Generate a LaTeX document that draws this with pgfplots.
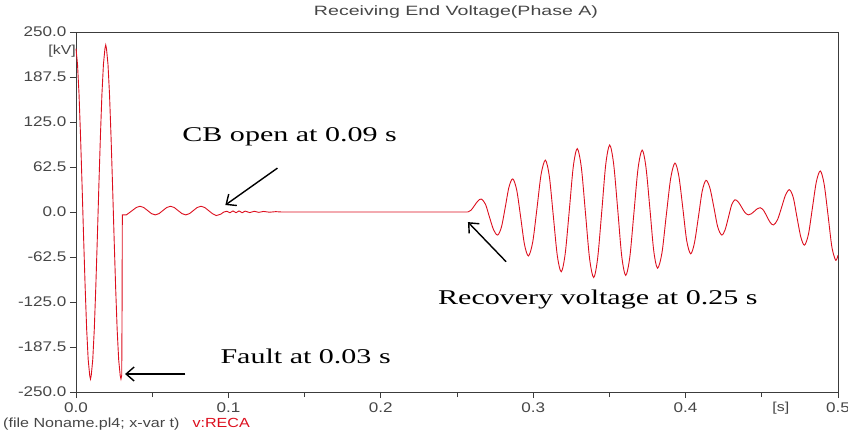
\documentclass[border=0pt]{standalone}
\usepackage{pgfplots}
\pgfplotsset{compat=1.18}
\usetikzlibrary{arrows.meta}
\usepackage{fontspec}
\setmainfont{Liberation Sans}[FakeStretch=1.22]
\newfontfamily\titlefont{Liberation Sans}[FakeStretch=1.45]
\newfontfamily\annfont{Liberation Serif}[FakeStretch=1.43]
\definecolor{wave}{RGB}{220,15,30}
\definecolor{axcol}{RGB}{60,60,60}
\definecolor{txtcol}{RGB}{70,70,70}
\begin{document}
\begin{tikzpicture}[x=1pt,y=1pt]
\useasboundingbox (-76,-40) rectangle (772,392);
\begin{axis}[
  at={(0,0)}, anchor=south west,
  scale only axis, width=762pt, height=360pt,
  xmin=0, xmax=0.5, ymin=-250, ymax=250,
  xtick={0,0.1,0.2,0.3,0.4,0.5},
  minor xtick={0.05,0.15,0.25,0.35,0.45},
  ytick={-250,-187.5,-125,-62.5,0,62.5,125,187.5,250},
  tick align=outside, tick pos=left,
  major tick length=6pt, minor tick length=5pt,
  every tick/.style={axcol, line width=0.8pt},
  axis line style={axcol, line width=0.9pt},
  /pgf/number format/.cd, fixed, fixed zerofill, precision=1, assume math mode=true,
  /pgfplots/.cd,
  tick label style={font=\fontsize{14}{16}\selectfont, text=txtcol},
  xticklabel style={yshift=-1pt},
  clip=false,
]
\addplot[wave, line width=0.9pt] coordinates {
(0,227) (0.001,205) (0.002,163) (0.003,104) (0.004,36) (0.005,-36) (0.006,-104) (0.007,-163) (0.008,-205) (0.009,-227) (0.0095,-232) (0.010,-227) (0.011,-205) (0.012,-163) (0.013,-104) (0.014,-36) (0.015,36) (0.016,104) (0.017,163) (0.018,205) (0.019,227) (0.0195,232) (0.020,227) (0.021,205) (0.022,163) (0.023,104) (0.024,36) (0.025,-36) (0.026,-104) (0.027,-163) (0.028,-205) (0.029,-227) (0.0295,-232) (0.030,-227) (0.0302,-150) (0.0304,-4)
(0.033,-4) (0.035,-1) (0.0395,6.2) (0.042,8) (0.0445,6.2) (0.047,2) (0.0495,-2.2) (0.052,-4) (0.0545,-2.2) (0.057,2) (0.0595,6.2) (0.062,8) (0.0645,6.2) (0.067,2) (0.0695,-2.2) (0.072,-4) (0.0745,-2.2) (0.077,2) (0.0795,6.2) (0.082,8) (0.0845,6.2) (0.087,2) (0.0895,-2.2) (0.092,-5) (0.095,-3) (0.097,0) (0.099,1)
(0.101,-1) (0.103,1.5) (0.105,-1) (0.107,1.5) (0.109,-1) (0.111,1.2) (0.114,-0.8) (0.117,1) (0.120,-0.5) (0.123,0.8) (0.127,-0.3) (0.131,0.5) (0.135,0) (0.257,0)
};
\addplot[wave, line width=0.9pt, smooth, tension=0.5] coordinates {
(0.257,0)
(0.25925,2.6) (0.2615,9) (0.26375,15.4) (0.266,18)
(0.2687,10.7) (0.2713,-7) (0.2740,-24.7) (0.2767,-32)
(0.2792,-20.6) (0.2817,7) (0.2841,34.6) (0.2866,46)
(0.2892,30.3) (0.2918,-7.5) (0.2943,-45.3) (0.2969,-61)
(0.2997,-41.5) (0.3025,5.5) (0.3052,52.5) (0.308,72)
(0.3106,49.3) (0.3132,-5.5) (0.3158,-60.3) (0.3184,-83)
(0.3210,-58) (0.3237,2.5) (0.3263,63) (0.3289,88)
(0.3316,61.8) (0.3343,-1.5) (0.3370,-64.8) (0.3397,-91)
(0.3423,-64) (0.3450,1) (0.3476,66) (0.3502,93)
(0.3528,66.5) (0.3555,2.5) (0.3581,-61.5) (0.3607,-88)
(0.3634,-62.5) (0.3661,-1) (0.3688,60.5) (0.3715,86)
(0.3740,62) (0.3766,4) (0.3791,-54) (0.3816,-78)
(0.3845,-56.6) (0.3873,-5) (0.3902,46.6) (0.393,68)
(0.3956,49.5) (0.3982,5) (0.4007,-39.5) (0.4033,-58)
(0.4058,-43) (0.4084,-7) (0.4109,29) (0.4134,44)
(0.4160,32.9) (0.4186,6) (0.4211,-20.9) (0.4237,-32)
(0.4259,-24.8) (0.4281,-7.5) (0.4302,9.8) (0.4324,17)
(0.4346,13.9) (0.4368,6.5) (0.4390,-0.9) (0.4412,-4)
(0.4431,-2.5) (0.4451,1) (0.4470,4.5) (0.4489,6)
(0.4511,2.5) (0.4533,-6) (0.4555,-14.5) (0.4577,-18)
(0.4603,-10.8) (0.4630,6.5) (0.4656,23.8) (0.4682,31)
(0.4707,19.7) (0.4731,-7.5) (0.4756,-34.7) (0.478,-46)
(0.4806,-31) (0.4832,5.5) (0.4858,42) (0.4884,57)
(0.4909,38.8) (0.4935,-5) (0.4960,-48.8) (0.4985,-67)
(0.5,-60)
};
% arrows
\draw[-{Straight Barb[length=8pt,width=14pt]}, line width=1.4pt] (axis cs:0.1322,61) -- (axis cs:0.098,9.7);
\draw[-{Straight Barb[length=8pt,width=14pt]}, line width=1.4pt] (axis cs:0.2822,-69) -- (axis cs:0.2572,-14);
\draw[-{Straight Barb[length=8pt,width=14pt]}, line width=1.4pt] (axis cs:0.0717,-225) -- (axis cs:0.0322,-225);
% annotation texts
\node[anchor=west, inner sep=0pt, font=\annfont\fontsize{21}{24}\selectfont] at (axis cs:0.0697,104) {CB open at 0.09 s};
\node[anchor=west, inner sep=0pt, font=\annfont\fontsize{21}{24}\selectfont] at (axis cs:0.2375,-122) {Recovery voltage at 0.25 s};
\node[anchor=west, inner sep=0pt, font=\annfont\fontsize{21}{24}\selectfont] at (axis cs:0.0947,-200) {Fault at 0.03 s};
% unit labels
\node[anchor=east, inner sep=0pt, font=\fontsize{13}{15}\selectfont, text=txtcol] at (axis cs:0,224) {[kV]\hspace{7pt}};
\node[anchor=center, inner sep=0pt, font=\fontsize{13}{15}\selectfont, text=txtcol] at (axis cs:0.4625,-250) [yshift=-16pt] {[s]};
\end{axis}
\node[font=\titlefont\fontsize{13.5}{15}\selectfont, text=txtcol] at (380,380) {Receiving End Voltage(Phase A)};
\node[anchor=west, inner sep=0pt, font=\fontsize{13.2}{15}\selectfont] at (-73,-32) {\textcolor{txtcol}{(file Noname.pl4; x-var t)}\hspace{13pt}\textcolor{wave}{v:RECA}};
\end{tikzpicture}
\end{document}
